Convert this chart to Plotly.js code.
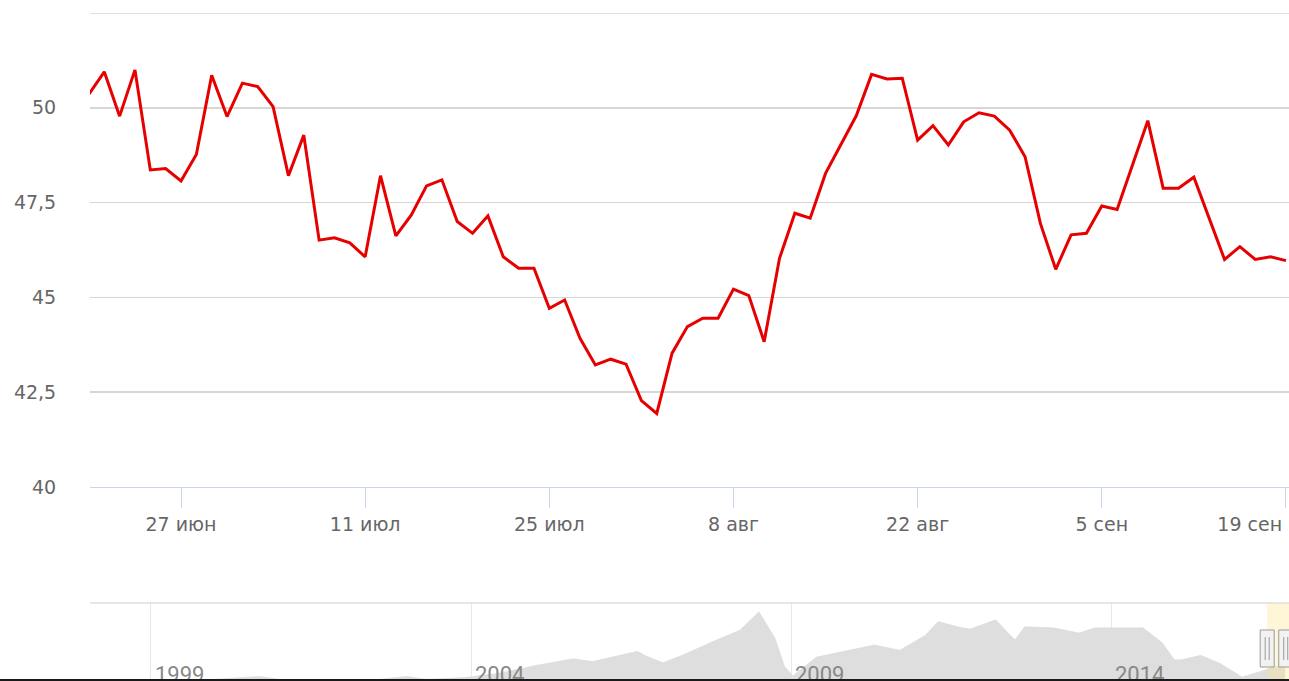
<!DOCTYPE html>
<html>
<head>
<meta charset="utf-8">
<script src="https://cdn.plot.ly/plotly-3.0.1.min.js"></script>
<style>
  html, body { margin: 0; padding: 0; overflow: hidden; background: #ffffff; }
  #chart { width: 1340px; height: 720px; }
</style>
</head>
<body>
<div id="chart"></div>
<script>
// Main series: daily price (index positions along the ordinal axis)
const prices = [
  50.36, 50.95, 49.78, 51.00, 48.36, 48.40, 48.07, 48.77, 50.86, 49.77,
  50.65, 50.56, 50.03, 48.21, 49.28, 46.51, 46.57, 46.44, 46.07, 48.21,
  46.62, 47.17, 47.94, 48.10, 47.00, 46.69, 47.15, 46.07, 45.77, 45.77,
  44.71, 44.93, 43.92, 43.22, 43.37, 43.24, 42.28, 41.94, 43.53, 44.23,
  44.45, 44.45, 45.22, 45.05, 43.83, 46.03, 47.22, 47.09, 48.27, 49.03,
  49.79, 50.88, 50.76, 50.78, 49.15, 49.53, 49.02, 49.63, 49.87, 49.78,
  49.41, 48.71, 46.95, 45.74, 46.65, 46.69, 47.41, 47.32, 48.49, 49.66,
  47.88, 47.88, 48.17, 47.09, 46.00, 46.34, 46.00, 46.07, 45.97
];
const pointIndex = prices.map((_, i) => i);

// Date tick labels on the ordinal axis (last one justified to the right edge)
const tickIndex = [6, 18, 30, 42, 54, 66, 78];
const tickLabels = ['27 июн', '11 июл', '25 июл', '8 авг', '22 авг', '5 сен',
  '19 сен' + '\u00a0'.repeat(12)];

// Y ticks
const yTicks = [40, 42.5, 45, 47.5, 50, 52.5];
const yTickLabels = ['40', '42,5', '45', '47,5', '50', ''];

// Navigator (long history)
const navYears = [
  1998.05, 1998.9, 1999.5, 2000.0, 2000.7, 2001.0, 2001.9, 2002.5, 2003.0, 2003.3,
  2003.9, 2004.4, 2004.8, 2005.0, 2005.6, 2005.9, 2006.6, 2006.75, 2007.0, 2007.3,
  2007.8, 2008.2, 2008.5, 2008.75, 2008.9, 2009.03, 2009.4, 2009.9, 2010.3, 2010.7,
  2011.1, 2011.3, 2011.6, 2011.8, 2012.2, 2012.35, 2012.5, 2012.65, 2013.1, 2013.5,
  2013.75, 2014.5, 2014.8, 2014.99, 2015.1, 2015.4, 2015.7, 2016.05, 2016.4, 2016.55,
  2016.72
];
const navValues = [
  12, 11, 20, 26, 31, 26, 20, 25, 31, 26,
  29, 36, 45, 50, 62, 57, 75, 66, 55, 68,
  93, 112, 144, 98, 48, 32, 65, 77, 86, 77,
  103, 127, 118, 114, 130, 112, 95, 118, 116, 107,
  116, 116, 90, 60, 60, 68, 54, 30, 42, 49,
  46
];
const navYearTicks = [1999, 2004, 2009, 2014];
const navYearLabels = ['1999', '2004', '2009', '2014'];
const selection = [2016.44, 2016.73];

const W = 1340, PLOT_RIGHT = 1289;
const H = 720, T = 13, BOTTOM = 692;
const PH = BOTTOM - T;
const py = p => (BOTTOM - p) / PH;
const px = p => (p - 90) / (PLOT_RIGHT - 90);

const traces = [
  {
    x: navYears, y: navValues, xaxis: 'x2', yaxis: 'y2',
    type: 'scatter', mode: 'lines', fill: 'tozeroy',
    fillcolor: '#dedede', line: { color: '#d6d6d6', width: 0.5 },
    hoverinfo: 'skip', showlegend: false
  },
  {
    x: pointIndex, y: prices, type: 'scatter', mode: 'lines',
    line: { color: '#e60000', width: 3 },
    showlegend: false
  }
];

const handle = (xa) => ([
  { type: 'rect', xref: 'x2', xsizemode: 'pixel', xanchor: xa, x0: -7, x1: 7,
    yref: 'paper', y0: py(667), y1: py(630),
    fillcolor: '#f2f2f2', line: { color: '#999999', width: 1 }, layer: 'above' },
  { type: 'line', xref: 'x2', xsizemode: 'pixel', xanchor: xa, x0: -2, x1: -2,
    yref: 'paper', y0: py(660), y1: py(637), line: { color: '#999999', width: 1 }, layer: 'above' },
  { type: 'line', xref: 'x2', xsizemode: 'pixel', xanchor: xa, x0: 2, x1: 2,
    yref: 'paper', y0: py(660), y1: py(637), line: { color: '#999999', width: 1 }, layer: 'above' }
]);

const shapes = [
  // top grid line of the main plot
  { type: 'line', xref: 'paper', x0: 0, x1: 1, yref: 'y', y0: 52.5, y1: 52.5,
    line: { color: '#d6d6d6', width: 1.5 }, layer: 'below' },
  { type: 'rect', xref: 'x2', x0: selection[0], x1: selection[1] + 0.2,
    yref: 'paper', y0: 0, y1: py(603),
    fillcolor: 'rgba(252,228,140,0.35)', line: { width: 0 }, layer: 'above' },
  { type: 'line', xref: 'paper', x0: 0, x1: 1, yref: 'paper', y0: py(603), y1: py(603),
    line: { color: '#cfcfcf', width: 1 } },
  ...handle(selection[0]),
  ...handle(selection[1]),
  { type: 'rect', xref: 'paper', x0: px(-2), x1: px(W), yref: 'paper', y0: py(681.5), y1: py(679),
    fillcolor: '#1a1a1a', line: { width: 0 }, layer: 'above' }
];

const font = { family: 'DejaVu Sans', size: 19, color: '#666666' };

const layout = {
  width: W, height: H,
  margin: { l: 90, r: W - PLOT_RIGHT, t: T, b: H - BOTTOM, pad: 0 },
  paper_bgcolor: '#ffffff', plot_bgcolor: 'rgba(0,0,0,0)',
  separators: ', ',
  showlegend: false,
  xaxis: {
    domain: [0, 1], anchor: 'y', range: [0.07, 78.2],
    tickmode: 'array', tickvals: tickIndex, ticktext: tickLabels,
    ticks: 'outside', ticklen: 20, tickwidth: 1, tickcolor: '#ccd6eb',
    showline: true, linecolor: '#ccd6eb', linewidth: 1,
    ticklabeloverflow: 'allow',
    showgrid: false, zeroline: false, tickfont: font, automargin: false, fixedrange: true
  },
  yaxis: {
    domain: [py(487), 1], anchor: 'x', range: [40, 52.5],
    tickmode: 'array', tickvals: yTicks, ticktext: yTickLabels,
    ticks: 'outside', ticklen: 29, tickcolor: 'rgba(0,0,0,0)',
    showgrid: true, gridcolor: '#d6d6d6', gridwidth: 1.5,
    showline: false, zeroline: false, tickfont: font, automargin: false, fixedrange: true
  },
  xaxis2: {
    domain: [0, 1], anchor: 'y2', range: [1998.047, 2016.781],
    tickmode: 'array', tickvals: navYearTicks, ticktext: navYearLabels,
    ticks: '', ticklabelposition: 'inside right', ticklabelshift: 4,
    showgrid: true, gridcolor: '#e8e8e8', gridwidth: 1,
    showline: false, zeroline: false,
    tickfont: { family: 'Roboto', size: 22, color: '#888888' },
    automargin: false, fixedrange: true, layer: 'above traces'
  },
  yaxis2: {
    domain: [0, py(603)], anchor: 'x2', range: [3.75, 159.5],
    showgrid: false, showticklabels: false, zeroline: false, showline: false,
    fixedrange: true
  },
  shapes: shapes
};

Plotly.newPlot('chart', traces, layout, { displayModeBar: false, staticPlot: true });
</script>
</body>
</html>
